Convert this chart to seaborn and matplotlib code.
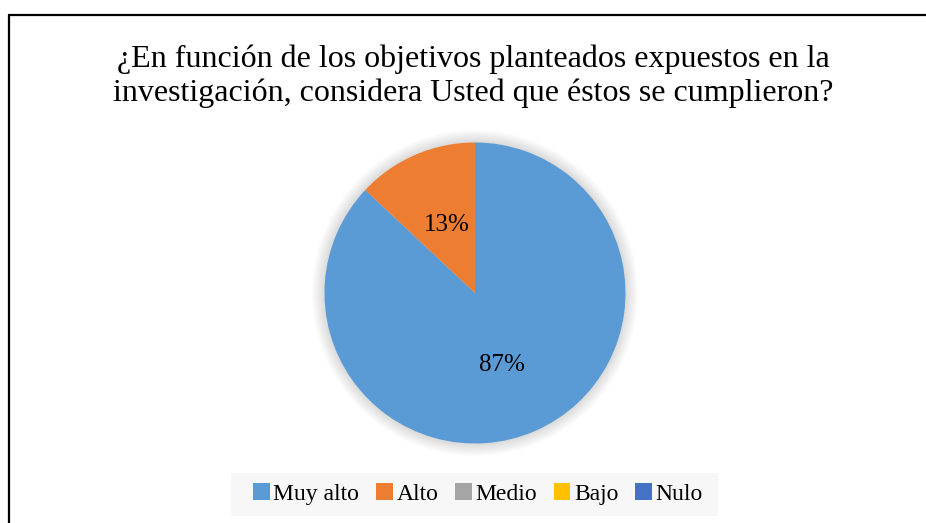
import matplotlib
matplotlib.use("Agg")
import matplotlib.pyplot as plt
import seaborn as sns
from matplotlib.patches import Circle, Rectangle, Patch
from matplotlib.lines import Line2D

categories = ["Muy alto", "Alto", "Medio", "Bajo", "Nulo"]
values = [87, 13, 0, 0, 0]
labels_pct = ["87%", "13%"]
colors = ["#5B9BD5", "#ED7D31", "#A5A5A5", "#FFC000", "#4472C4"]
title = ("¿En función de los objetivos planteados expuestos en la\n"
         "investigación, considera Usted que éstos se cumplieron?")

sns.set_theme(style="white")
plt.rcParams["font.family"] = ["Liberation Serif", "DejaVu Serif"]
plt.rcParams["text.color"] = "black"

W, H = 926, 523
fig = plt.figure(figsize=(W / 100, H / 100), dpi=100)
fig.patch.set_facecolor("white")

# border (top and left lines)
fig.add_artist(Line2D([8.5 / W, 1], [1 - 15 / H, 1 - 15 / H], color="black", lw=1.6,
                      transform=fig.transFigure))
fig.add_artist(Line2D([8.5 / W, 8.5 / W], [0, 1 - 15 / H], color="black", lw=1.6,
                      transform=fig.transFigure))

fig.text(473 / W, 1 - 76 / H, title, ha="center", va="center", fontsize=23,
         linespacing=1.22, color="black")

cx, cy, r = 475, 293, 150.5
ax = fig.add_axes([(cx - r) / W, (H - cy - r) / H, 2 * r / W, 2 * r / H])

nonzero = [(v, c) for v, c in zip(values, colors) if v > 0]
wedges, _ = ax.pie([v for v, _ in nonzero], colors=[c for _, c in nonzero],
                   startangle=90, counterclock=False, radius=1.0,
                   wedgeprops=dict(linewidth=0))
for w in wedges:
    w.set_zorder(2)

ax.set_xlim(-1, 1)
ax.set_ylim(-1, 1)
ax.set_aspect("equal")
ax.axis("off")

# soft shadow
for i in range(12):
    rr = 1.0 + 0.007 * (12 - i)
    ax.add_patch(Circle((0, 0.0), rr, color="black", alpha=0.012, lw=0, zorder=0,
                        clip_on=False))

ax.text((502 - cx) / r, (cy - 365) / r, labels_pct[0], ha="center", va="center",
        fontsize=18, zorder=3, color="black")
ax.text((447 - cx) / r, (cy - 225) / r, labels_pct[1], ha="center", va="center",
        fontsize=18, zorder=3, color="black")

# legend background
fig.add_artist(Rectangle((231 / W, 1 - 516 / H), (718 - 231) / W, 43 / H,
                         transform=fig.transFigure, facecolor="#F7F7F7",
                         edgecolor="none", zorder=0))
handles = [Patch(facecolor=c, edgecolor="none") for c in colors]
leg = fig.legend(handles, categories, loc="center", bbox_to_anchor=(478 / W, 1 - 494 / H),
                 ncol=5, frameon=False, fontsize=17, handlelength=0.7, handleheight=0.7,
                 handletextpad=0.15, columnspacing=0.72, labelcolor="black")

fig.savefig("out.png", dpi=100, facecolor="white")
